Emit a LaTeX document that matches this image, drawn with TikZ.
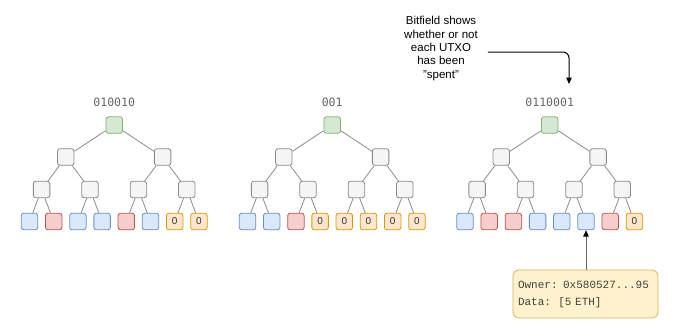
\documentclass[tikz,border=0pt]{standalone}
\usepackage{fontspec}
\setmainfont{Liberation Sans}
\setmonofont{Liberation Mono}
\newfontfamily\lblfont{DejaVu Sans Mono}
\usetikzlibrary{arrows.meta}
\definecolor{grnF}{HTML}{D5E8D4}\definecolor{grnD}{HTML}{82B366}
\definecolor{gryF}{HTML}{F5F5F5}\definecolor{gryD}{HTML}{8A8A8A}
\definecolor{bluF}{HTML}{DAE8FC}\definecolor{bluD}{HTML}{6C8EBF}
\definecolor{redF}{HTML}{F8CECC}\definecolor{redD}{HTML}{B85450}
\definecolor{orgF}{HTML}{FFE6CC}\definecolor{orgD}{HTML}{D79B00}
\definecolor{ylwF}{HTML}{FFF2CC}\definecolor{ylwD}{HTML}{D6B656}
\definecolor{edgeC}{HTML}{8C8C8C}
\definecolor{lblC}{HTML}{666666}
\begin{document}
\begin{tikzpicture}[x=1pt,y=-1pt,
  box/.style={rounded corners=2.5pt,minimum size=16.5pt,inner sep=0pt,line width=0.8pt,
    font=\fontsize{10}{10}\selectfont,text=black!80},
  rt/.style={box,fill=grnF,draw=grnD},
  gr/.style={box,fill=gryF,draw=gryD},
  bl/.style={box,fill=bluF,draw=bluD},
  rd/.style={box,fill=redF,draw=redD},
  zr/.style={box,fill=orgF,draw=orgD},
  edge/.style={draw=edgeC,line width=0.8pt},
  lbl/.style={font=\lblfont\fontsize{11.5}{12}\selectfont,text=lblC},
  arr/.style={line width=1pt,-{Triangle[length=6.5pt,width=5.5pt]}},
  arrg/.style={draw=black!60,line width=1pt,-{Triangle[length=6.5pt,width=5.5pt,color=black]}}
]
\useasboundingbox (0,0) rectangle (680,333);
\fill[white] (0,0) rectangle (680,333);

\foreach \t/\bx/\lab in {1/29.5/010010, 2/247.5/001, 3/465/0110001}{
  \node[lbl] (t\t-lab) at (\bx+84.7,102) {\lab};
  \node[rt] (t\t-r) at (\bx+84.7,125) {};
  \foreach \k in {0,1}{
    \node[gr] (t\t-a\k) at (\bx+36.3+96.8*\k,157) {};
    \draw[edge] (t\t-r) -- (t\t-a\k);
  }
  \foreach \j/\p in {0/0,1/0,2/1,3/1}{
    \node[gr] (t\t-b\j) at (\bx+12.1+48.4*\j,189.5) {};
    \draw[edge] (t\t-a\p) -- (t\t-b\j);
  }
}

\foreach \i/\c/\p/\txt in {0/bl/0/{},1/rd/0/{},2/bl/1/{},3/bl/1/{},4/rd/2/{},5/bl/2/{},6/zr/3/0,7/zr/3/0}{
  \node[\c] (t1-l\i) at (29.5+24.2*\i,221.5) {\txt};
  \draw[edge] (t1-b\p) -- (t1-l\i);
}
\foreach \i/\c/\p/\txt in {0/bl/0/{},1/bl/0/{},2/rd/1/{},3/zr/1/0,4/zr/2/0,5/zr/2/0,6/zr/3/0,7/zr/3/0}{
  \node[\c] (t2-l\i) at (247.5+24.2*\i,221.5) {\txt};
  \draw[edge] (t2-b\p) -- (t2-l\i);
}
\foreach \i/\c/\p/\txt in {0/bl/0/{},1/rd/0/{},2/rd/1/{},3/bl/1/{},4/bl/2/{},5/bl/2/{},6/rd/3/{},7/zr/3/0}{
  \node[\c] (t3-l\i) at (465+24.2*\i,221.5) {\txt};
  \draw[edge] (t3-b\p) -- (t3-l\i);
}

\node[align=center,font=\fontsize{11.5}{13.4}\selectfont,inner sep=0pt] (bf) at (441,48.5)
  {Bitfield shows\\whether or not\\each UTXO\\has been\\\char"22 spent\char"22};
\coordinate (bftip) at (569,84);
\draw[arr,rounded corners=6pt] ([xshift=10pt,yshift=-3.5pt]bf.east) -| (bftip);

\node[rounded corners=6pt,fill=ylwF,draw=ylwD,line width=0.8pt,minimum width=145pt,minimum height=48pt,
  inner xsep=5pt,text width=135pt,align=left,font=\ttfamily\fontsize{11}{17}\selectfont,text=black!75]
  (own) at (585.5,294) {Owner: 0x580527...95\\Data:\ \ [5 ETH]};
\draw[arrg] (own.north -| t3-l5.south) -- (t3-l5.south);
\end{tikzpicture}
\end{document}
